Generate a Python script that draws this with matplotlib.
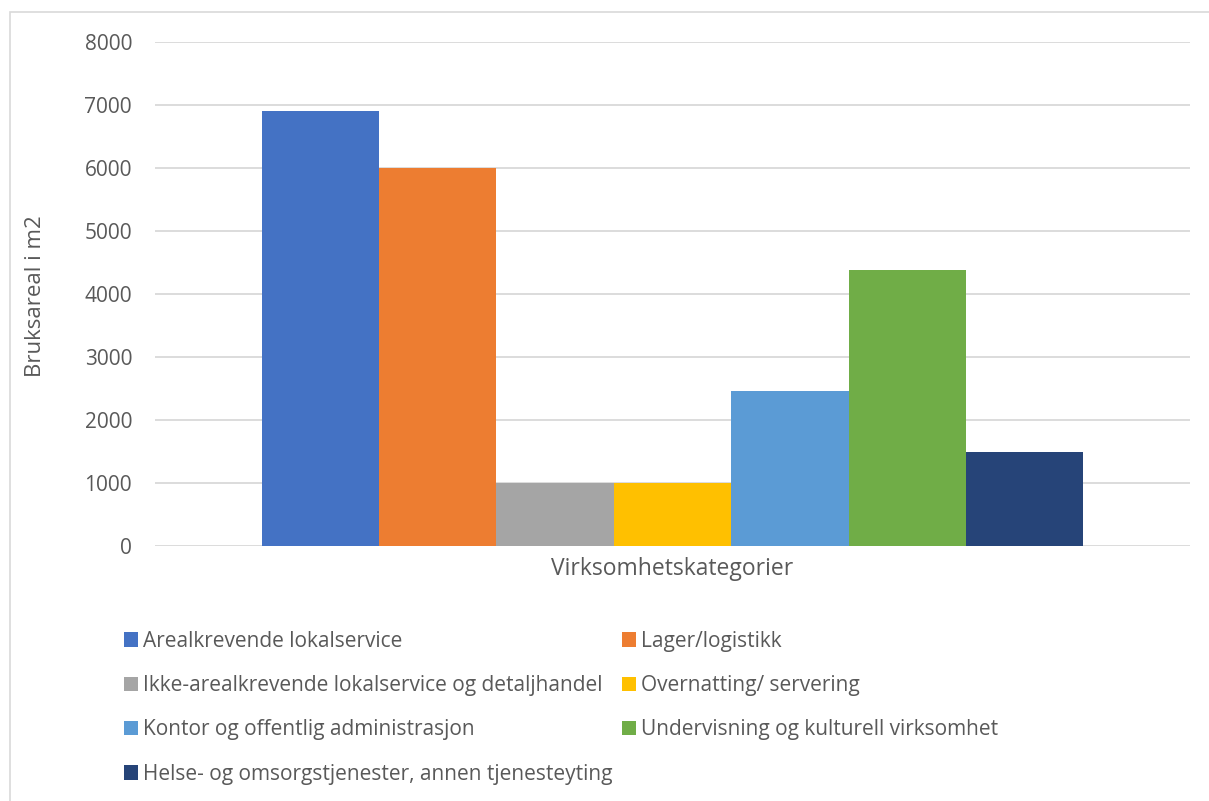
import matplotlib
matplotlib.use("Agg")
import matplotlib.pyplot as plt
from matplotlib.patches import Rectangle, Patch

categories = ["Arealkrevende lokalservice", "Lager/logistikk",
              "Ikke-arealkrevende lokalservice og detaljhandel", "Overnatting/ servering",
              "Kontor og offentlig administrasjon", "Undervisning og kulturell virksomhet",
              "Helse- og omsorgstjenester, annen tjenesteyting"]
values = [6900, 6000, 1000, 1000, 2460, 4380, 1490]
colors = ["#4472C4", "#ED7D31", "#A5A5A5", "#FFC000", "#5B9BD5", "#70AD47", "#264478"]
yticks = [0, 1000, 2000, 3000, 4000, 5000, 6000, 7000, 8000]

plt.rcParams['font.family'] = ['Open Sans', 'DejaVu Sans']
txt = "#595959"

W, H = 1209, 801
fig = plt.figure(figsize=(W/100, H/100), dpi=100)
fig.patches.append(Rectangle((10/W, -0.1), 1.2, 1.1 - 12/H, transform=fig.transFigure,
                             fill=False, edgecolor="#d9d9d9", linewidth=1.2))

ax = fig.add_axes([155/W, 1 - 546/H, (1190-155)/W, (546-42)/H])
n = len(values)
bw = 0.794 / n
handles = []
for i, (v, c, lab) in enumerate(zip(values, colors, categories)):
    x = -0.397 + bw*(i + 0.5)
    ax.bar(x, v, width=bw, color=c, zorder=3)
    handles.append(Patch(facecolor=c, label=lab))

ax.set_xlim(-0.5, 0.5)
ax.set_ylim(0, 8000)
ax.set_yticks(yticks)
ax.set_yticklabels([str(t) for t in yticks], fontsize=15, color=txt)
ax.set_xticks([])
ax.grid(axis='y', color="#d9d9d9", linewidth=1.3, zorder=0)
for s in ax.spines.values():
    s.set_visible(False)
ax.tick_params(axis='y', length=0, pad=16.5)
ax.set_xlabel("Virksomhetskategorier", fontsize=16.5, color=txt, labelpad=8)
fig.text(36/W, 1 - 296/H, "Bruksareal i m2", rotation=90, fontsize=16, color=txt,
         ha='center', va='center')

order = [0, 2, 4, 6, 1, 3, 5]
leg = fig.legend([handles[i] for i in order], [categories[i] for i in order], ncol=2,
                 loc='upper left', bbox_to_anchor=(105/W, 1 - 612/H), frameon=False,
                 fontsize=15, handlelength=0.67, handleheight=0.67, handletextpad=0.25,
                 labelspacing=1.12, columnspacing=0.45, labelcolor=txt)

fig.savefig("out.png", dpi=100)
